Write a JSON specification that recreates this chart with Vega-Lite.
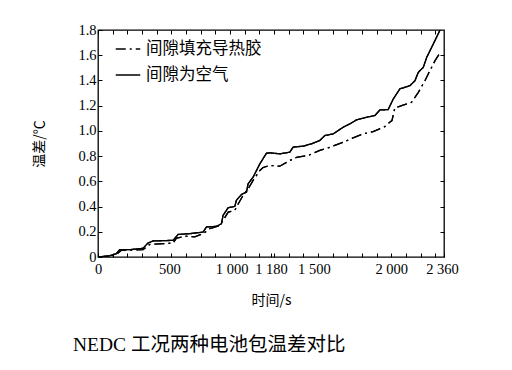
{
  "$schema": "https://vega.github.io/schema/vega-lite/v6.json",
  "autosize": "none",
  "padding": {"left": 98, "top": 30, "right": 68, "bottom": 113},
  "width": 346,
  "height": 227,
  "background": "white",
  "config": {
    "view": {"stroke": "black", "strokeWidth": 1.3},
    "axis": {"domain": false, "grid": false, "tickColor": "black", "labelColor": "black", "titleColor": "black", "labelFont": "Liberation Serif", "labelFontSize": 14.5, "tickSize": -4, "tickWidth": 1}
  },
  "title": {"text": "NEDC 工况两种电池包温差对比", "orient": "bottom", "anchor": "start", "frame": "group", "dx": -25, "offset": 28, "font": "Liberation Serif, Noto Sans CJK SC", "fontSize": 19.5, "fontWeight": "normal", "color": "black"},
  "datasets": {
    "curves": [
      {"t": 0, "v": 0, "s": "间隙填充导热胶"},
      {"t": 80, "v": 0.006, "s": "间隙填充导热胶"},
      {"t": 125, "v": 0.02, "s": "间隙填充导热胶"},
      {"t": 160, "v": 0.053, "s": "间隙填充导热胶"},
      {"t": 307, "v": 0.058, "s": "间隙填充导热胶"},
      {"t": 352, "v": 0.1, "s": "间隙填充导热胶"},
      {"t": 512, "v": 0.11, "s": "间隙填充导热胶"},
      {"t": 535, "v": 0.15, "s": "间隙填充导热胶"},
      {"t": 600, "v": 0.165, "s": "间隙填充导热胶"},
      {"t": 660, "v": 0.16, "s": "间隙填充导热胶"},
      {"t": 717, "v": 0.185, "s": "间隙填充导热胶"},
      {"t": 762, "v": 0.224, "s": "间隙填充导热胶"},
      {"t": 830, "v": 0.25, "s": "间隙填充导热胶"},
      {"t": 853, "v": 0.29, "s": "间隙填充导热胶"},
      {"t": 888, "v": 0.356, "s": "间隙填充导热胶"},
      {"t": 933, "v": 0.37, "s": "间隙填充导热胶"},
      {"t": 956, "v": 0.42, "s": "间隙填充导热胶"},
      {"t": 990, "v": 0.49, "s": "间隙填充导热胶"},
      {"t": 1024, "v": 0.54, "s": "间隙填充导热胶"},
      {"t": 1058, "v": 0.607, "s": "间隙填充导热胶"},
      {"t": 1104, "v": 0.686, "s": "间隙填充导热胶"},
      {"t": 1126, "v": 0.71, "s": "间隙填充导热胶"},
      {"t": 1172, "v": 0.726, "s": "间隙填充导热胶"},
      {"t": 1240, "v": 0.72, "s": "间隙填充导热胶"},
      {"t": 1308, "v": 0.765, "s": "间隙填充导热胶"},
      {"t": 1354, "v": 0.79, "s": "间隙填充导热胶"},
      {"t": 1433, "v": 0.805, "s": "间隙填充导热胶"},
      {"t": 1513, "v": 0.845, "s": "间隙填充导热胶"},
      {"t": 1581, "v": 0.87, "s": "间隙填充导热胶"},
      {"t": 1672, "v": 0.91, "s": "间隙填充导热胶"},
      {"t": 1740, "v": 0.945, "s": "间隙填充导热胶"},
      {"t": 1809, "v": 0.976, "s": "间隙填充导热胶"},
      {"t": 1877, "v": 0.995, "s": "间隙填充导热胶"},
      {"t": 1956, "v": 1.034, "s": "间隙填充导热胶"},
      {"t": 1990, "v": 1.069, "s": "间隙填充导热胶"},
      {"t": 2005, "v": 1.082, "s": "间隙填充导热胶"},
      {"t": 2025, "v": 1.182, "s": "间隙填充导热胶"},
      {"t": 2071, "v": 1.2, "s": "间隙填充导热胶"},
      {"t": 2139, "v": 1.227, "s": "间隙填充导热胶"},
      {"t": 2185, "v": 1.306, "s": "间隙填充导热胶"},
      {"t": 2230, "v": 1.398, "s": "间隙填充导热胶"},
      {"t": 2264, "v": 1.478, "s": "间隙填充导热胶"},
      {"t": 2299, "v": 1.557, "s": "间隙填充导热胶"},
      {"t": 2333, "v": 1.62, "s": "间隙填充导热胶"},
      {"t": 0, "v": 0, "s": "间隙为空气"},
      {"t": 80, "v": 0.01, "s": "间隙为空气"},
      {"t": 125, "v": 0.026, "s": "间隙为空气"},
      {"t": 148, "v": 0.058, "s": "间隙为空气"},
      {"t": 216, "v": 0.058, "s": "间隙为空气"},
      {"t": 307, "v": 0.069, "s": "间隙为空气"},
      {"t": 341, "v": 0.111, "s": "间隙为空气"},
      {"t": 375, "v": 0.127, "s": "间隙为空气"},
      {"t": 512, "v": 0.132, "s": "间隙为空气"},
      {"t": 546, "v": 0.179, "s": "间隙为空气"},
      {"t": 626, "v": 0.185, "s": "间隙为空气"},
      {"t": 717, "v": 0.198, "s": "间隙为空气"},
      {"t": 740, "v": 0.238, "s": "间隙为空气"},
      {"t": 808, "v": 0.243, "s": "间隙为空气"},
      {"t": 842, "v": 0.264, "s": "间隙为空气"},
      {"t": 853, "v": 0.33, "s": "间隙为空气"},
      {"t": 888, "v": 0.391, "s": "间隙为空气"},
      {"t": 933, "v": 0.401, "s": "间隙为空气"},
      {"t": 944, "v": 0.449, "s": "间隙为空气"},
      {"t": 979, "v": 0.496, "s": "间隙为空气"},
      {"t": 1013, "v": 0.515, "s": "间隙为空气"},
      {"t": 1024, "v": 0.581, "s": "间隙为空气"},
      {"t": 1058, "v": 0.633, "s": "间隙为空气"},
      {"t": 1104, "v": 0.739, "s": "间隙为空气"},
      {"t": 1149, "v": 0.823, "s": "间隙为空气"},
      {"t": 1172, "v": 0.826, "s": "间隙为空气"},
      {"t": 1240, "v": 0.818, "s": "间隙为空气"},
      {"t": 1308, "v": 0.831, "s": "间隙为空气"},
      {"t": 1331, "v": 0.871, "s": "间隙为空气"},
      {"t": 1399, "v": 0.879, "s": "间隙为空气"},
      {"t": 1456, "v": 0.897, "s": "间隙为空气"},
      {"t": 1513, "v": 0.924, "s": "间隙为空气"},
      {"t": 1547, "v": 0.963, "s": "间隙为空气"},
      {"t": 1604, "v": 0.976, "s": "间隙为空气"},
      {"t": 1672, "v": 1.029, "s": "间隙为空气"},
      {"t": 1718, "v": 1.056, "s": "间隙为空气"},
      {"t": 1763, "v": 1.087, "s": "间隙为空气"},
      {"t": 1831, "v": 1.108, "s": "间隙为空气"},
      {"t": 1889, "v": 1.122, "s": "间隙为空气"},
      {"t": 1923, "v": 1.166, "s": "间隙为空气"},
      {"t": 1979, "v": 1.169, "s": "间隙为空气"},
      {"t": 2014, "v": 1.253, "s": "间隙为空气"},
      {"t": 2059, "v": 1.333, "s": "间隙为空气"},
      {"t": 2128, "v": 1.359, "s": "间隙为空气"},
      {"t": 2162, "v": 1.398, "s": "间隙为空气"},
      {"t": 2185, "v": 1.465, "s": "间隙为空气"},
      {"t": 2219, "v": 1.504, "s": "间隙为空气"},
      {"t": 2242, "v": 1.583, "s": "间隙为空气"},
      {"t": 2287, "v": 1.689, "s": "间隙为空气"},
      {"t": 2333, "v": 1.8, "s": "间隙为空气"}
    ]
  },
  "data": {"name": "curves"},
  "resolve": {"axis": {"x": "independent", "y": "independent"}},
  "layer": [
    {
      "mark": {"type": "line", "strokeWidth": 1.3, "clip": true},
      "encoding": {
        "x": {"field": "t", "type": "quantitative", "scale": {"domain": [0, 2360], "nice": false, "zero": true},
          "axis": {"orient": "bottom", "values": [0,100,200,300,400,500,600,700,800,900,1000,1100,1180,1200,1300,1400,1500,1600,1700,1800,1900,2000,2100,2200,2300,2360],
            "labelExpr": "datum.value==0?'0':datum.value==500?'500':datum.value==1000?'1 000':datum.value==1180?'1 180':datum.value==1500?'1 500':datum.value==2000?'2 000':datum.value==2360?'2 360':''",
            "labelOffset": {"condition": [{"test": "datum.value==1000", "value": -13}, {"test": "datum.value==1500", "value": -4}, {"test": "datum.value==500 || datum.value==2360", "value": -2}], "value": 0},
            "labelPadding": 9, "labelFlush": false, "labelOverlap": false, "title": "时间/s", "titleFont": "Noto Sans CJK SC", "titleFontSize": 14, "titleFontWeight": "normal", "titlePadding": 18}},
        "y": {"field": "v", "type": "quantitative", "scale": {"domain": [0, 1.8], "nice": false},
          "axis": {"orient": "left", "values": [0,0.2,0.4,0.6,0.8,1.0,1.2,1.4,1.6,1.8],
            "labelExpr": "datum.value==0?'0':format(datum.value,'.1f')", "labelPadding": 6, "labelFlush": false,
            "title": "温差/℃", "titleFont": "Noto Sans CJK SC", "titleFontSize": 14, "titleFontWeight": "normal", "titlePadding": 31}},
        "color": {"value": "black"},
        "strokeDash": {"field": "s", "type": "nominal", "sort": ["间隙填充导热胶", "间隙为空气"],
          "scale": {"domain": ["间隙填充导热胶", "间隙为空气"], "range": [[10, 4, 2, 4], [1, 0]]},
          "legend": {"orient": "none", "legendX": 17, "legendY": 6, "title": null, "symbolType": "stroke", "symbolSize": 600, "symbolStrokeWidth": 1.3, "symbolStrokeColor": "black", "labelFont": "Noto Sans CJK SC", "labelFontSize": 16.5, "labelColor": "black", "rowPadding": 4, "labelOffset": 5}}
      }
    },
    {
      "mark": {"type": "line", "strokeWidth": 1.3, "clip": true},
      "encoding": {
        "x": {"field": "t", "type": "quantitative", "axis": {"orient": "top", "values": [0,100,200,300,400,500,600,700,800,900,1000,1100,1200,1300,1400,1500,1600,1700,1800,1900,2000,2100,2200,2300], "labels": false, "title": null}},
        "y": {"field": "v", "type": "quantitative", "axis": {"orient": "right", "values": [0.2,0.4,0.6,0.8,1.0,1.2,1.4,1.6], "labels": false, "title": null}},
        "color": {"value": "black"},
        "strokeDash": {"field": "s", "type": "nominal", "legend": null}
      }
    }
  ]
}
